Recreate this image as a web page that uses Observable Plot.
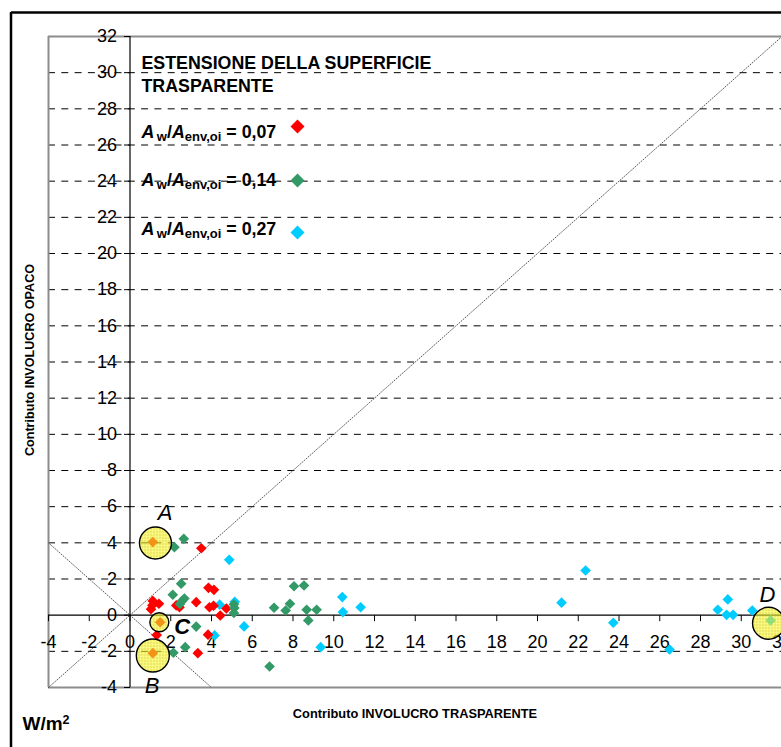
<!DOCTYPE html>
<html><head><meta charset="utf-8">
<script src="https://cdn.jsdelivr.net/npm/d3@7"></script>
<script src="https://cdn.jsdelivr.net/npm/@observablehq/plot@0.6"></script>
<style>
html,body{margin:0;padding:0;background:#fff;}
#chart{position:relative;width:781px;height:747px;overflow:hidden;}
#chart svg{display:block;}
</style></head><body><div id="chart"></div>
<script>
const FONT = "Arial, 'Liberation Sans', Helvetica, sans-serif";

// ---- data ----
const axisTicks = [-4, -2, 0, 2, 4, 6, 8, 10, 12, 14, 16, 18, 20, 22, 24, 26, 28, 30, 32];
const gridValues = [-2, 2, 4, 6, 8, 10, 12, 14, 16, 18, 20, 22, 24, 26, 28, 30];
const seriesNames = ["0,07", "0,14", "0,27"];
const seriesColors = ["#ff0000", "#339966", "#00ccff"];

const x007 = [1.12, 3.50, 3.85, 4.12, 1.12, 1.42, 1.03, 1.10, 2.27, 2.43, 3.25, 3.90, 4.10, 4.43, 4.73, 1.31, 3.83, 3.33, 1.12, 1.48];
const y007 = [4.04, 3.70, 1.51, 1.40, 0.79, 0.63, 0.33, 0.55, 0.54, 0.44, 0.72, 0.44, 0.52, -0.02, 0.37, -1.10, -1.08, -2.10, -2.10, -0.39];

const x014 = [2.18, 2.64, 2.51, 2.10, 2.45, 2.55, 2.67, 3.25, 2.71, 2.13, 5.10, 5.12, 5.10, 7.07, 7.64, 7.85, 8.05, 8.54, 8.67, 8.75, 9.16, 6.85];
const y014 = [3.76, 4.22, 1.74, 1.13, 0.62, 0.78, 0.92, -0.63, -1.77, -2.08, 0.60, 0.40, 0.12, 0.41, 0.26, 0.63, 1.60, 1.64, 0.30, -0.29, 0.30, -2.84];

const x027 = [4.87, 4.40, 5.14, 5.60, 4.15, 9.36, 10.42, 10.45, 11.32, 21.18, 22.36, 23.72, 26.48, 28.85, 29.34, 29.28, 29.60, 30.54, 31.44];
const y027 = [3.06, 0.58, 0.74, -0.62, -1.12, -1.77, 1.00, 0.17, 0.44, 0.69, 2.47, -0.42, -1.90, 0.30, 0.87, 0.02, 0.02, 0.26, -0.29];

const circleLabels = ["A", "B", "C", "D"];
const circleX = [1.25, 1.12, 1.44, 31.34];
const circleY = [3.99, -2.23, -0.39, -0.45];
const letterX = [1.72, 1.08, 2.56, 31.29];
const letterY = [5.65, -3.94, -0.63, 1.12];

// ---- tables built from the arrays ----
const toRows = (xs, ys, s) => xs.map((x, i) => ({x, y: ys[i], series: s}));
const points = [
  ...toRows(x027, y027, "0,27"),
  ...toRows(x007, y007, "0,07"),
  ...toRows(x014, y014, "0,14")
];
const circles = circleLabels.map((label, i) => ({label, x: circleX[i], y: circleY[i]}));
const letters = circleLabels.map((label, i) => ({label, x: letterX[i], y: letterY[i]}));

// ---- styles ----
const circleRadius = {A: 16, B: 16.5, C: 9.5, D: 16};
const letterStyle = {A: ["italic", "normal"], B: ["italic", "normal"], C: ["italic", "bold"], D: ["italic", "normal"]};
const dom = [axisTicks[0], axisTicks[axisTicks.length - 1]];

const tickLeft = {draw(ctx) { ctx.moveTo(-6, 0); ctx.lineTo(0, 0); }};
const tickDown = {draw(ctx) { ctx.moveTo(0, 0); ctx.lineTo(0, 6); }};

const marks = [
  // dashed gridlines
  Plot.ruleY(gridValues, {x1: dom[0], x2: dom[1], stroke: "#000", strokeWidth: 1, strokeDasharray: "7,6.3"}),
  // plot-area border
  Plot.ruleX([dom[0]], {y1: dom[0], y2: dom[1], stroke: "#8c8c8c", strokeWidth: 2}),
  Plot.ruleY([dom[0], dom[1]], {x1: dom[0], x2: dom[1], stroke: "#8c8c8c", strokeWidth: 2}),
  // diagonals
  Plot.line([{x: dom[0], y: dom[0]}, {x: dom[1], y: dom[1]}], {x: "x", y: "y", stroke: "#444", strokeWidth: 0.9, strokeDasharray: "1,1.8"}),
  Plot.line([{x: dom[0], y: -dom[0]}, {x: -dom[0], y: dom[0]}], {x: "x", y: "y", stroke: "#444", strokeWidth: 0.9, strokeDasharray: "1,1.8"}),
  // axes through origin
  Plot.ruleX([0], {y1: dom[0], y2: dom[1], stroke: "#000", strokeWidth: 1.2}),
  Plot.ruleY([0], {x1: dom[0], x2: dom[1], stroke: "#000", strokeWidth: 1.2}),
  Plot.dot(axisTicks, {x: () => 0, y: d => d, symbol: tickLeft, stroke: "#000", strokeWidth: 1, fill: "none"}),
  Plot.dot(axisTicks, {x: d => d, y: () => 0, symbol: tickDown, stroke: "#000", strokeWidth: 1, fill: "none"}),
  Plot.text(axisTicks, {x: () => 0, y: d => d, text: d => String(d), textAnchor: "end", dx: -13, fontSize: 18, fill: "#000"}),
  Plot.text(axisTicks, {x: d => d, y: () => 0, text: d => String(d), dy: 27.5, fontSize: 18, fill: "#000"}),
  // data
  Plot.dot(points, {x: "x", y: "y", fill: "series", symbol: "diamond2", r: 4.8, stroke: null}),
  // legend symbols
  ...seriesNames.map((s, i) => Plot.dot([s], {frameAnchor: "top-left", dx: 249, dy: [90, 144, 196][i], fill: seriesColors[i], symbol: "diamond2", r: 6.3})),
  // highlight circles
  ...circles.map(c => Plot.dot([c], {x: "x", y: "y", r: circleRadius[c.label], fill: "#ffff33", fillOpacity: 0.55, stroke: "none"})),
  ...circles.map(c => Plot.dot([c], {x: "x", y: "y", r: circleRadius[c.label], fill: "url(#hatch)", stroke: "#000", strokeWidth: 1.4})),
  // letters
  ...letters.map(l => Plot.text([l], {x: "x", y: "y", text: "label", fontSize: 22, fontStyle: letterStyle[l.label][0], fontWeight: letterStyle[l.label][1], fill: "#000"}))
];

const chart = Plot.plot({
  width: 781, height: 747,
  marginLeft: 48, marginRight: -0.5, marginTop: 36, marginBottom: 60,
  x: {domain: dom, axis: null},
  y: {domain: dom, axis: null},
  color: {domain: seriesNames, range: seriesColors},
  style: {fontFamily: FONT, background: "#fff", overflow: "hidden"},
  marks
});
document.getElementById("chart").appendChild(chart);

const svg = d3.select(chart);
const defs = svg.insert("defs", ":first-child");
const pat = defs.append("pattern").attr("id", "hatch").attr("patternUnits", "userSpaceOnUse").attr("width", 3).attr("height", 3);
pat.append("path").attr("d", "M0,0.5H3M0.5,0V3").attr("stroke", "#b8b000").attr("stroke-opacity", 0.35).attr("stroke-width", 0.8);

// outer black frame (top + left)
svg.append("line").attr("x1", 11).attr("y1", 12.5).attr("x2", 781).attr("y2", 12.5).attr("stroke", "#000").attr("stroke-width", 2.5);
svg.append("line").attr("x1", 11).attr("y1", 12).attr("x2", 11).attr("y2", 747).attr("stroke", "#000").attr("stroke-width", 2.5);

// legend title
const g = svg.append("g").attr("font-family", FONT).attr("fill", "#000").attr("text-anchor", "start");
g.append("text").attr("x", 141.5).attr("y", 68.5).attr("font-size", 17.8).attr("font-weight", "bold").text("ESTENSIONE DELLA SUPERFICIE");
g.append("text").attr("x", 141.5).attr("y", 92).attr("font-size", 17.8).attr("font-weight", "bold").text("TRASPARENTE");

const legendBaselines = [137.7, 186, 235];
seriesNames.forEach((s, i) => {
  const t = g.append("text").attr("x", 141.5).attr("y", legendBaselines[i]).attr("font-size", 17.8).attr("font-weight", "bold");
  t.append("tspan").attr("font-style", "italic").text("A");
  t.append("tspan").attr("font-size", 13).attr("dx", 2.5).attr("dy", 3).text("w");
  t.append("tspan").attr("dy", -3).text("/");
  t.append("tspan").attr("font-style", "italic").text("A");
  t.append("tspan").attr("font-size", 13).attr("dy", 3).text("env,oi");
  t.append("tspan").attr("dy", -3).text("\u00a0= " + s);
});

// axis titles
g.append("text").attr("transform", "translate(33.5,360) rotate(-90)").attr("text-anchor", "middle").attr("font-size", 12.6).attr("font-weight", "bold").text("Contributo INVOLUCRO OPACO");
g.append("text").attr("x", 415).attr("y", 718).attr("text-anchor", "middle").attr("font-size", 12.8).attr("font-weight", "bold").text("Contributo INVOLUCRO TRASPARENTE");
const u = g.append("text").attr("x", 22.5).attr("y", 729.5).attr("font-size", 19).attr("font-weight", "bold");
u.append("tspan").text("W/m");
u.append("tspan").attr("font-size", 12.5).attr("dy", -6).text("2");
</script></body></html>
